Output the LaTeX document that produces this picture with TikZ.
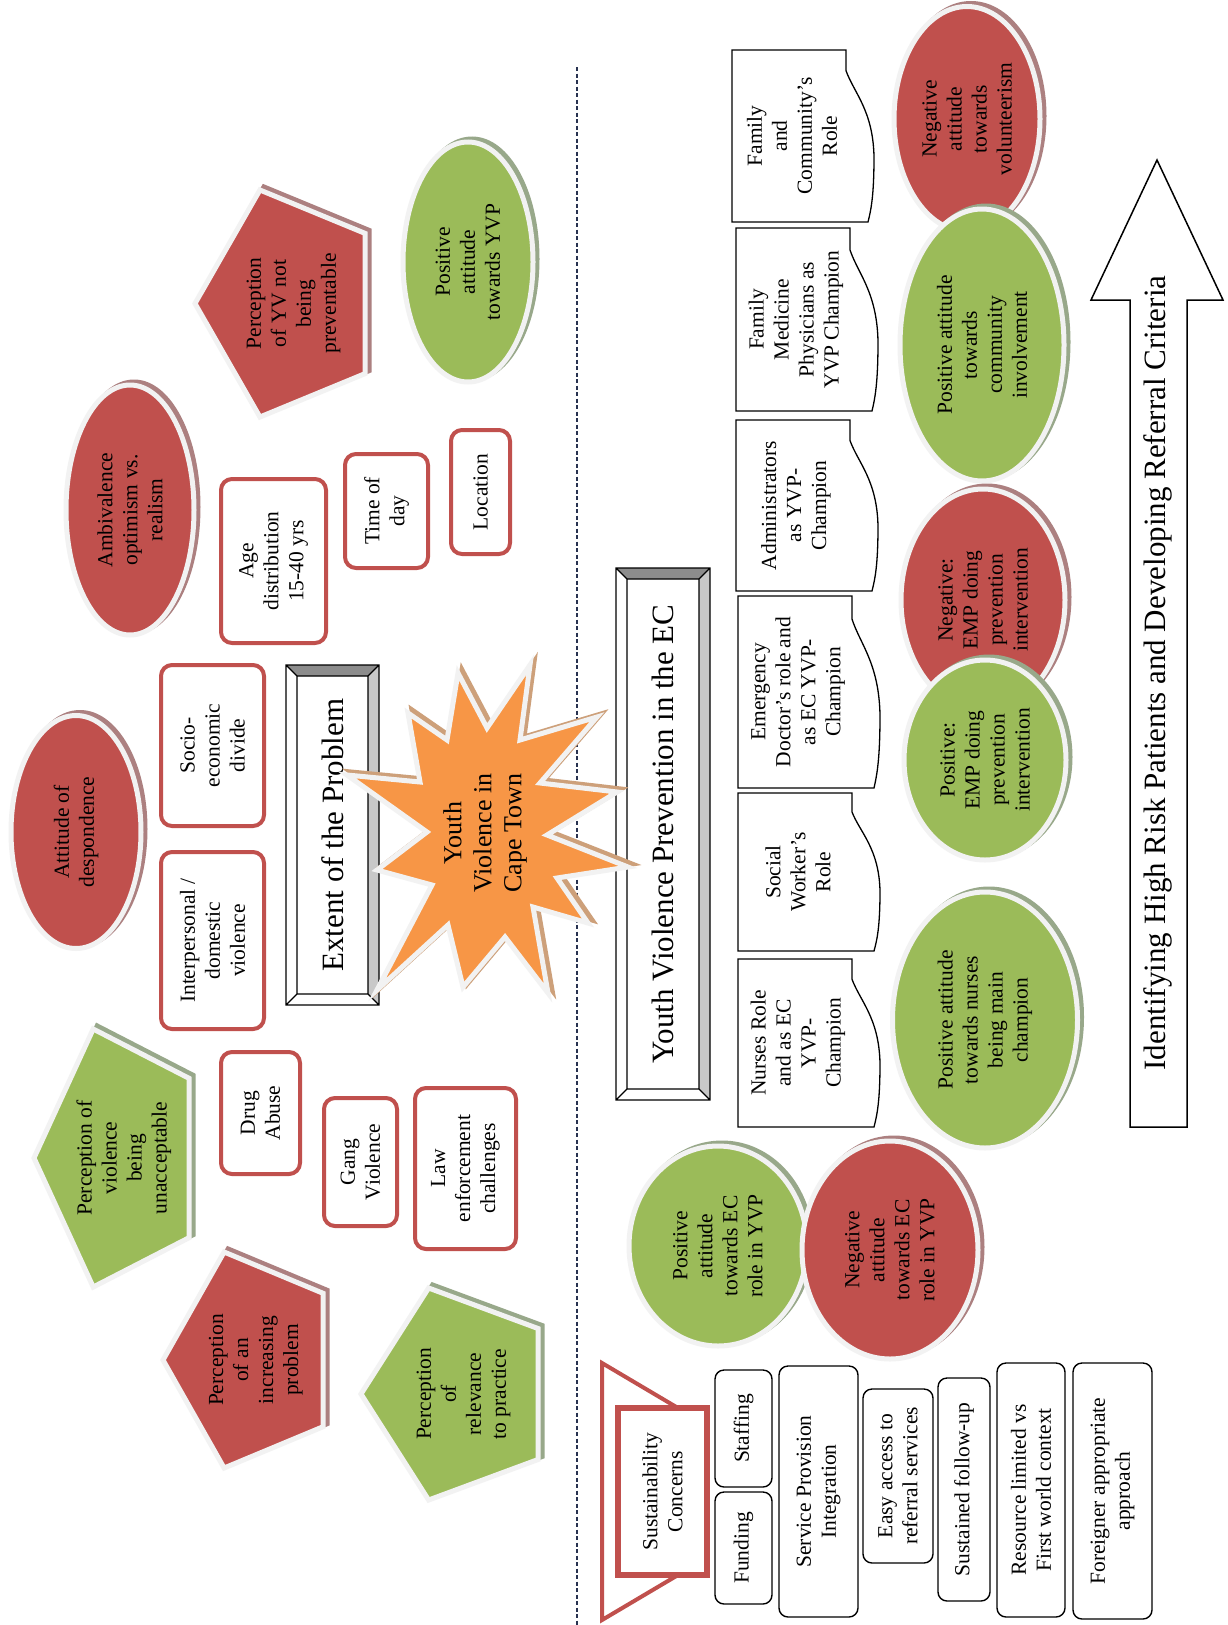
\documentclass[tikz,border=0pt]{standalone}
\usepackage{fontspec}
\setmainfont{Liberation Serif}
\usetikzlibrary{shapes.geometric}
\definecolor{redfill}{RGB}{192,80,77}
\definecolor{redshade}{RGB}{172,128,128}
\definecolor{greenfill}{RGB}{155,187,89}
\definecolor{greenshade}{RGB}{152,168,138}
\definecolor{orangefill}{RGB}{247,150,70}
\definecolor{orangeshade}{RGB}{205,160,122}
\definecolor{rimgrey}{RGB}{242,242,242}
\definecolor{beveldark}{RGB}{140,140,140}
\definecolor{bevellight}{RGB}{200,200,200}
\definecolor{dividenavy}{RGB}{40,50,80}
\tikzset{
  base/.style={font=\fontsize{21.5}{25}\selectfont, align=center, inner sep=0pt, text=black, rotate=90},
  head/.style={base, font=\fontsize{31}{36}\selectfont},
  glow/.style={fill=#1fill, draw=rimgrey, line width=5pt,
    preaction={fill=#1shade, draw=#1shade, line width=5pt, transform canvas={xshift=4pt,yshift=3pt}}},
  blob/.style={base, ellipse, glow=#1},
  factor/.style={base, rectangle, rounded corners=11pt, draw=redfill, line width=4pt, fill=white},
  issue/.style={base, rectangle, rounded corners=9pt, draw=black, line width=1.4pt, fill=white},
  doc/.style={draw=black, line width=1.3pt, fill=white},
  bevel/.style={draw=black, line width=1.1pt},
  divider/.style={draw=dividenavy, line width=1.2pt, dash pattern=on 4pt off 2.5pt},
}
\begin{document}
\begin{tikzpicture}[x=1pt,y=-1pt]
  \fill[white] (0,0) rectangle (1228,1625);
  \useasboundingbox (0,0) rectangle (1228,1625);
  % dashed divider between the two halves
  \coordinate (divtop) at (577,67);
  \coordinate (divbot) at (577,1625);
  \draw[divider] (divtop) -- (divbot);
  % pentagons
  \foreach \nm/\xa/\xb/\ya/\yb/\col/\txt in {
      notprev/195/365/190/417/red/{Perception\\of YV not\\being\\preventable},
      unaccept/34/189/1029/1287/green/{Perception of\\violence\\being\\unacceptable},
      increase/163/323/1252/1468/red/{Perception\\of an\\increasing\\problem},
      relevance/361/538/1288/1500/green/{Perception\\of\\relevance\\to practice}}{
    \pgfmathsetmacro{\xm}{\xa+0.382*(\xb-\xa)}
    \pgfmathsetmacro{\yc}{(\ya+\yb)/2}
    \pgfmathsetmacro{\yd}{0.309*(\yb-\ya)}
    \path[glow=\col] (\xa,\yc) -- (\xm,\ya) -- (\xb,\yc-\yd) -- (\xb,\yc+\yd) -- (\xm,\yb) -- cycle;
    \node[base] (\nm) at ({\xa+0.58*(\xb-\xa)},\yc) {\txt};
  }
  % ellipses
  \foreach \nm/\cx/\cy/\ew/\eh/\col/\txt in {
      despond/76/832/130/233/red/{Attitude of\\despondence},
      ambival/130/510/128/250/red/{Ambivalence\\optimism vs.\\realism},
      posyvp/468/262/130/240/green/{Positive\\attitude\\towards YVP},
      volunteer/967/119/146/225/red/{Negative\\attitude\\towards\\volunteerism},
      community/982/345/164/272/green/{Positive attitude\\towards\\community\\involvement},
      negemp/983/600/164/222/red/{Negative:\\EMP doing\\prevention\\intervention},
      posemp/985/760/162/200/green/{Positive:\\EMP doing\\prevention\\intervention},
      nurses/985/1020/185/256/green/{Positive attitude\\towards nurses\\being main\\champion},
      posec/718/1246/178/200/green/{Positive\\attitude\\towards EC\\role in YVP},
      negec/890/1250/176/218/red/{Negative\\attitude\\towards EC\\role in YVP}}{
    \node[blob=\col, minimum width=\eh pt, minimum height=\ew pt] (\nm) at (\cx,\cy) {\txt};
  }
  % extent factors
  \foreach \nm/\cx/\cy/\bw/\bh/\txt in {
      age/273.5/561/105/164/{Age\\distribution\\15-40 yrs},
      timeofday/386.5/511/83/114/{Time of\\day},
      location/480.5/492/59/124/{Location},
      socio/212.5/745.5/103/161/{Socio-\\economic\\divide},
      interpers/212.5/940.5/103/177/{Interpersonal /\\domestic\\violence},
      drugs/260.5/1113/79/122/{Drug\\Abuse},
      gangs/360.5/1162/73/128/{Gang\\Violence},
      lawenf/465.5/1168.5/101/161/{Law\\enforcement\\challenges}}{
    \node[factor, minimum width=\bh pt, minimum height=\bw pt] (\nm) at (\cx,\cy) {\txt};
  }
  % bevel title boxes
  \foreach \nm/\xa/\ya/\xb/\yb/\txt in {
      extent/286/665/379/1005/{Extent of the Problem},
      prevent/616/568/710/1100/{Youth Violence Prevention in the EC}}{
    \fill[white] (\xa,\ya) rectangle (\xb,\yb);
    \fill[beveldark] (\xa,\ya) -- (\xb,\ya) -- (\xb-11,\ya+11) -- (\xa+11,\ya+11) -- cycle;
    \fill[bevellight] (\xb,\ya) -- (\xb,\yb) -- (\xb-11,\yb-11) -- (\xb-11,\ya+11) -- cycle;
    \draw[bevel] (\xa,\ya) rectangle (\xb,\yb) (\xa+11,\ya+11) rectangle (\xb-11,\yb-11)
      (\xa,\ya) -- (\xa+11,\ya+11) (\xb,\ya) -- (\xb-11,\ya+11)
      (\xa,\yb) -- (\xa+11,\yb-11) (\xb,\yb) -- (\xb-11,\yb-11);
    \node[head] (\nm) at ({(\xa+\xb)/2},{(\ya+\yb)/2}) {\txt};
  }
  % the star
  \path[glow=orange] (530,665) -- (487,728) -- (458,673) -- (447,740) -- (408,713) -- (420,782)
    -- (347,775) -- (427,832) -- (377,870) -- (432,885) -- (377,990) -- (448,925)
    -- (463,987) -- (505,937) -- (548,993) -- (533,907) -- (588,923) -- (557,878)
    -- (628,867) -- (547,835) -- (617,792) -- (540,783) -- (597,717) -- (520,740) -- cycle;
  \node[base, font=\fontsize{26}{30}\selectfont] (capetown) at (485,833) {Youth\\Violence in\\Cape Town};
  % role documents
  \foreach \nm/\xl/\yt/\yb/\txt in {
      family/732/50/222/{Family\\and\\Community's\\Role},
      fammed/736/228/411/{Family\\Medicine\\Physicians as\\YVP Champion},
      admin/736/420/591/{Administrators\\as YVP-\\Champion},
      emerg/738/596/788/{Emergency\\Doctor's role and\\as EC YVP-\\Champion},
      social/738/793/951/{Social\\Worker's\\Role},
      nursing/738/959/1127/{Nurses Role\\and as EC\\YVP-\\Champion}}{
    \pgfmathsetmacro{\xr}{\xl+114}
    \pgfmathsetmacro{\hgt}{\yb-\yt}
    \draw[doc] (\xl,\yt) -- (\xr,\yt) -- (\xr,\yt+0.12*\hgt)
      .. controls (\xr+8,\yt+0.25*\hgt) and (\xr+27,\yt+0.35*\hgt) .. (\xr+28,\yt+0.62*\hgt)
      .. controls (\xr+28,\yt+0.85*\hgt) and (\xr+25,\yt+0.93*\hgt) .. (\xr+22,\yb)
      -- (\xl,\yb) -- cycle;
    \node[base] (\nm) at (\xl+60,{(\yt+\yb)/2}) {\txt};
  }
  % big arrow
  \draw[doc, line width=1.5pt] (1130,1127) -- (1130,300) -- (1091,300) -- (1157,160)
    -- (1223,300) -- (1187,300) -- (1187,1127) -- cycle;
  \node[head] (criteria) at (1158,673) {Identifying High Risk Patients and Developing Referral Criteria};
  % sustainability
  \draw[draw=redfill, line width=4pt, fill=white] (602,1363) -- (700,1421) -- (700,1562) -- (602,1620) -- cycle;
  \node[base, draw=redfill, line width=6pt, fill=white, minimum width=167pt, minimum height=89pt]
    (sustain) at (662.5,1491.5) {Sustainability\\Concerns};
  \foreach \nm/\cx/\cy/\bw/\bh/\txt in {
      funding/743.5/1548/57/112/{Funding},
      staffing/743.5/1428.5/57/117/{Staffing},
      service/818.5/1491.5/79/251/{Service Provision\\Integration},
      access/898/1476/70/174/{Easy access to\\referral services},
      followup/964/1489.5/52/223/{Sustained follow-up},
      resource/1031/1490/68/254/{Resource limited vs\\First world context},
      foreigner/1112.5/1491/79/256/{Foreigner appropriate\\approach}}{
    \node[issue, minimum width=\bh pt, minimum height=\bw pt] (\nm) at (\cx,\cy) {\txt};
  }
\end{tikzpicture}
\end{document}
